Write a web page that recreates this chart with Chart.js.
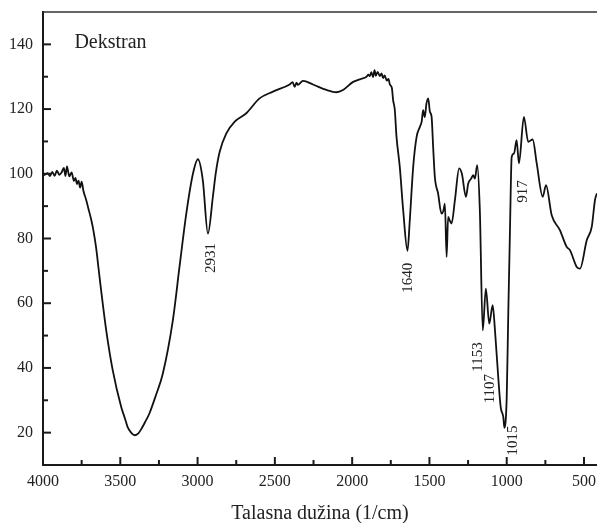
<!DOCTYPE html>
<html><head><meta charset="utf-8">
<script src="https://cdn.jsdelivr.net/npm/chart.js@4.4.0/dist/chart.umd.min.js"></script>
<style>html,body{margin:0;padding:0;background:#fff;}</style>
</head><body>
<canvas id="c" width="597" height="523"></canvas>
<script>
const wavenumbers = [4000,3985,3970,3955,3940,3925,3910,3895,3880,3865,3855,3845,3830,3815,3800,3790,3780,3770,3760,3750,3738,3721,3706,3688,3674,3656,3640,3624,3591,3549,3494,3470,3453,3430,3408,3385,3363,3340,3311,3270,3225,3160,3117,3073,3030,2998,2966,2933,2901,2883,2857,2814,2760,2685,2599,2512,2404,2385,2372,2360,2352,2318,2253,2166,2102,2059,1994,1950,1907,1895,1886,1876,1865,1855,1847,1835,1821,1810,1800,1790,1776,1765,1756,1743,1735,1724,1713,1692,1670,1642,1627,1605,1583,1562,1550,1541,1530,1520,1508,1497,1486,1476,1465,1444,1422,1410,1400,1389,1379,1368,1357,1335,1308,1290,1264,1249,1230,1217,1206,1191,1174,1155,1135,1113,1091,1076,1055,1039,1022,1015,1000,990,979,968,953,936,921,889,861,832,806,767,746,709,656,612,591,547,526,482,450,429,416];
const transmittance = [99.5,99.8,100.2,99.3,100.6,99.4,101.0,99.7,100.4,101.8,99.3,102.3,99.2,100.4,97.8,98.7,96.8,97.9,95.7,97.6,94.6,92.0,89.2,85.8,82.5,77.0,70.5,64.0,51.6,39.3,27.9,24.4,21.8,20.0,19.2,19.7,21.2,23.2,26.0,31.5,38.2,54.7,71.2,87.7,100.0,104.5,98.0,81.5,92.9,100.0,106.8,112.5,116.1,118.7,123.3,125.4,127.6,128.3,126.9,128.2,127.5,128.7,127.6,125.9,125.2,125.9,128.4,129.2,130.0,130.6,130.2,131.4,129.9,132.0,130.3,131.5,130.2,131.0,129.6,130.4,128.8,129.3,127.6,126.5,122.8,119.7,111.4,102.2,88.8,76.2,85.7,102.2,111.4,114.5,116.2,119.7,117.5,121.5,123.3,119.2,117.6,108.3,99.0,93.9,87.7,88.5,90.8,74.3,86.7,85.5,84.6,91.9,101.7,100.0,92.9,97.0,98.5,99.6,98.5,102.7,88.8,51.6,64.5,53.7,59.4,51.6,37.2,27.9,24.8,21.5,31.0,56.8,82.6,105.2,106.3,110.4,103.2,117.6,109.9,110.6,103.2,92.9,96.5,87.2,82.6,77.4,76.4,71.2,70.7,79.5,83.6,91.9,94.0];

const xMajorTicks = [4000,3500,3000,2500,2000,1500,1000,500];
const xMinorTicks = [3750,3250,2750,2250,1750,1250,750];
const yMajorTicks = [20,40,60,80,100,120,140];
const yMinorTicks = [30,50,70,90,110,130];

const peakLabels = ['2931','1640','1153','1107','1015','917'];
const peakLabelX = [2913,1638,1184,1109,960,893];
const peakLabelY = [74,67.9,43.4,33.6,17.6,94.5];

const sampleName = 'Dekstran';
const sampleNameX = 3797;
const sampleNameY = 138.8;
const xTitle = 'Talasna dužina (1/cm)';

const FONT = "'Liberation Serif', 'Times New Roman', serif";
const INK = '#1a1a1a';

const decorPlugin = {
  id: 'decor',
  afterDraw(chart) {
    const ctx = chart.ctx;
    const xs = chart.scales.x, ys = chart.scales.y;
    const a = chart.chartArea;
    ctx.save();
    ctx.strokeStyle = '#333';
    ctx.lineWidth = 1.5;
    ctx.beginPath();
    ctx.moveTo(a.left, a.top);
    ctx.lineTo(a.right, a.top);
    ctx.stroke();
    ctx.strokeStyle = INK;
    ctx.lineWidth = 2;
    const yTick = (v, len) => {
      const p = ys.getPixelForValue(v);
      ctx.beginPath(); ctx.moveTo(a.left, p); ctx.lineTo(a.left + len, p); ctx.stroke();
    };
    const xTick = (v, len) => {
      const p = xs.getPixelForValue(v);
      ctx.beginPath(); ctx.moveTo(p, a.bottom); ctx.lineTo(p, a.bottom - len); ctx.stroke();
    };
    yMajorTicks.forEach(v => yTick(v, 8));
    yMinorTicks.forEach(v => yTick(v, 5));
    xMajorTicks.forEach(v => xTick(v, 8));
    xMinorTicks.forEach(v => xTick(v, 5));
    ctx.fillStyle = '#222';
    ctx.font = '15px ' + FONT;
    ctx.textAlign = 'center';
    ctx.textBaseline = 'middle';
    peakLabels.forEach((t, i) => {
      const px = xs.getPixelForValue(peakLabelX[i]);
      const py = ys.getPixelForValue(peakLabelY[i]);
      ctx.save();
      ctx.translate(px, py);
      ctx.rotate(-Math.PI / 2);
      ctx.fillText(t, 0, 0);
      ctx.restore();
    });
    ctx.font = '20px ' + FONT;
    ctx.textAlign = 'left';
    ctx.textBaseline = 'alphabetic';
    ctx.fillText(sampleName, xs.getPixelForValue(sampleNameX), ys.getPixelForValue(sampleNameY));
    ctx.restore();
  }
};

new Chart(document.getElementById('c'), {
  type: 'line',
  data: {
    datasets: [{
      data: wavenumbers.map((w, i) => ({x: w, y: transmittance[i]})),
      borderColor: '#111',
      borderWidth: 1.8,
      pointRadius: 0,
      cubicInterpolationMode: 'monotone',
      fill: false
    }]
  },
  options: {
    responsive: false,
    animation: false,
    devicePixelRatio: 1,
    layout: {padding: {top: 12, right: 0, left: 0, bottom: 0}},
    plugins: {legend: {display: false}, tooltip: {enabled: false}, title: {display: false}},
    scales: {
      x: {
        type: 'linear',
        reverse: true,
        min: 416,
        max: 4000,
        afterBuildTicks: s => { s.ticks = xMajorTicks.map(v => ({value: v})); },
        afterFit: s => { s.height = 58; s.paddingLeft = 0; s.paddingRight = 0; },
        grid: {display: false, drawTicks: false},
        border: {display: true, color: INK, width: 2},
        ticks: {color: '#222', font: {family: FONT, size: 16}, padding: 7, maxRotation: 0, autoSkip: false, callback: v => String(v)},
        title: {display: true, text: xTitle, color: '#222', font: {family: FONT, size: 20, lineHeight: 1}, padding: {top: 0, bottom: -1}}
      },
      y: {
        type: 'linear',
        min: 10,
        max: 150,
        afterBuildTicks: s => { s.ticks = yMajorTicks.map(v => ({value: v})); },
        afterFit: s => { s.width = 43; s.paddingTop = 0; s.paddingBottom = 0; },
        grid: {display: false, drawTicks: false},
        border: {display: true, color: INK, width: 2},
        ticks: {color: '#222', font: {family: FONT, size: 16}, padding: 10, autoSkip: false, callback: v => String(v)}
      }
    }
  },
  plugins: [decorPlugin]
});
</script>
</body></html>
